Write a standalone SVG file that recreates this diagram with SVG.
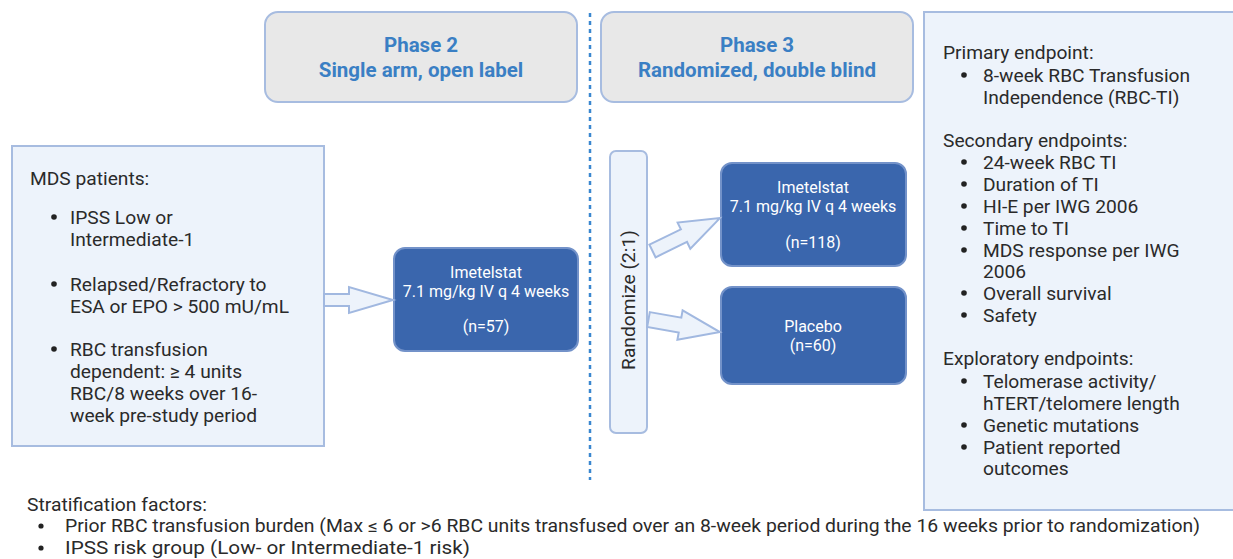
<svg xmlns="http://www.w3.org/2000/svg" width="1233" height="559" viewBox="0 0 1233 559">
<style>
.panel{fill:#edf3fb;stroke:#a7bce0;stroke-width:2}
.phase{fill:#e8e8e8;stroke:#a7bce0;stroke-width:2}
.dark{fill:#3a66ad;stroke:#7392c9;stroke-width:2}
.arrow{fill:#edf3fb;stroke:#a1b8e0;stroke-width:2;stroke-linejoin:miter}
.body{font-family:Roboto,"Liberation Sans",sans-serif;font-size:19.2px;fill:#2a2a2a}
.ph{font-family:Roboto,"Liberation Sans",sans-serif;font-size:20.5px;font-weight:bold;fill:#3a7fc4;text-anchor:middle}
.wt{font-family:Roboto,"Liberation Sans",sans-serif;font-size:16px;fill:#fff;text-anchor:middle}
.strat{font-family:Roboto,"Liberation Sans",sans-serif;font-size:17.5px;fill:#2a2a2a}
</style>
<rect width="1233" height="559" fill="#fff"/>
<line x1="590" y1="13" x2="590" y2="480" stroke="#3a87d0" stroke-width="2.5" stroke-dasharray="4 4"/>
<g id="phase2">
<rect class="phase" x="265" y="12" width="312" height="90" rx="13"/>
<text class="ph" x="421" y="52">Phase 2</text>
<text class="ph" x="421" y="77">Single arm, open label</text>
</g>
<g id="phase3">
<rect class="phase" x="601" y="12" width="312" height="90" rx="13"/>
<text class="ph" x="757" y="52">Phase 3</text>
<text class="ph" x="757" y="77">Randomized, double blind</text>
</g>
<g id="patients">
<rect class="panel" x="12" y="146" width="312" height="300"/>
<text class="body" x="30" y="185">MDS patients:</text>
<g class="body">
<circle cx="54" cy="217" r="2.8" fill="#222"/>
<text x="70" y="224">IPSS Low or</text>
<text x="70" y="246">Intermediate-1</text>
<circle cx="54" cy="284" r="2.8" fill="#222"/>
<text x="70" y="291">Relapsed/Refractory to</text>
<text x="70" y="313">ESA or EPO &gt; 500 mU/mL</text>
<circle cx="54" cy="349" r="2.8" fill="#222"/>
<text x="70" y="356">RBC transfusion</text>
<text x="70" y="378">dependent: ≥ 4 units</text>
<text x="70" y="400">RBC/8 weeks over 16-</text>
<text x="70" y="422">week pre-study period</text>
</g>
</g>
<g id="imetelstat-p2">
<rect class="dark" x="394" y="248" width="184" height="103" rx="11"/>
<text class="wt" x="486" y="278">Imetelstat</text>
<text class="wt" x="486" y="297">7.1 mg/kg IV q 4 weeks</text>
<text class="wt" x="486" y="332">(n=57)</text>
</g>
<g id="randomize">
<rect class="panel" x="610" y="151" width="37" height="282" rx="6"/>
<text class="body" transform="translate(635,300) rotate(-90)" text-anchor="middle">Randomize (2:1)</text>
</g>
<g id="imetelstat-p3">
<rect class="dark" x="721" y="163" width="185" height="103" rx="11"/>
<text class="wt" x="813" y="193">Imetelstat</text>
<text class="wt" x="813" y="212">7.1 mg/kg IV q 4 weeks</text>
<text class="wt" x="813" y="248">(n=118)</text>
</g>
<g id="placebo">
<rect class="dark" x="721" y="287" width="185" height="97" rx="11"/>
<text class="wt" x="813" y="332">Placebo</text>
<text class="wt" x="813" y="351">(n=60)</text>
</g>
<g id="endpoints">
<rect class="panel" x="924" y="12" width="320" height="498"/>
<g class="body">
<text x="943" y="59">Primary endpoint:</text>
<circle cx="964" cy="75" r="2.8" fill="#222"/>
<text x="983" y="82">8-week RBC Transfusion</text>
<text x="983" y="104">Independence (RBC-TI)</text>
<text x="943" y="147">Secondary endpoints:</text>
<circle cx="964" cy="162" r="2.8" fill="#222"/>
<text x="983" y="169">24-week RBC TI</text>
<circle cx="964" cy="184" r="2.8" fill="#222"/>
<text x="983" y="191">Duration of TI</text>
<circle cx="964" cy="206" r="2.8" fill="#222"/>
<text x="983" y="213">HI-E per IWG 2006</text>
<circle cx="964" cy="228" r="2.8" fill="#222"/>
<text x="983" y="235">Time to TI</text>
<circle cx="964" cy="250" r="2.8" fill="#222"/>
<text x="983" y="257">MDS response per IWG</text>
<text x="983" y="278">2006</text>
<circle cx="964" cy="293" r="2.8" fill="#222"/>
<text x="983" y="300">Overall survival</text>
<circle cx="964" cy="315" r="2.8" fill="#222"/>
<text x="983" y="322">Safety</text>
<text x="943" y="365">Exploratory endpoints:</text>
<circle cx="964" cy="381" r="2.8" fill="#222"/>
<text x="983" y="388">Telomerase activity/</text>
<text x="983" y="410">hTERT/telomere length</text>
<circle cx="964" cy="425" r="2.8" fill="#222"/>
<text x="983" y="432">Genetic mutations</text>
<circle cx="964" cy="447" r="2.8" fill="#222"/>
<text x="983" y="454">Patient reported</text>
<text x="983" y="475">outcomes</text>
</g>
</g>
<g id="connectors">
<polygon class="arrow" points="324,294 349,294 349,287 393,300 349,313 349,306 324,306"/>
<polygon class="arrow" transform="translate(652.5,251) rotate(-26)" points="0,-7 35,-7 35,-14.5 75,0 35,14.5 35,7 0,7"/>
<polygon class="arrow" transform="translate(648.5,319.5) rotate(10)" points="0,-7.5 32,-7.5 32,-15 72.5,0 32,15 32,7.5 0,7.5"/>
</g>
<g id="stratification" class="strat">
<text x="27" y="511" textLength="180" lengthAdjust="spacingAndGlyphs">Stratification factors:</text>
<circle cx="41" cy="526" r="2.6" fill="#222"/>
<text x="65" y="532" textLength="1135" lengthAdjust="spacingAndGlyphs">Prior RBC transfusion burden (Max ≤ 6 or &gt;6 RBC units transfused over an 8-week period during the 16 weeks prior to randomization)</text>
<circle cx="41" cy="548" r="2.6" fill="#222"/>
<text x="65" y="554" textLength="405" lengthAdjust="spacingAndGlyphs">IPSS risk group (Low- or Intermediate-1 risk)</text>
</g>
</svg>
